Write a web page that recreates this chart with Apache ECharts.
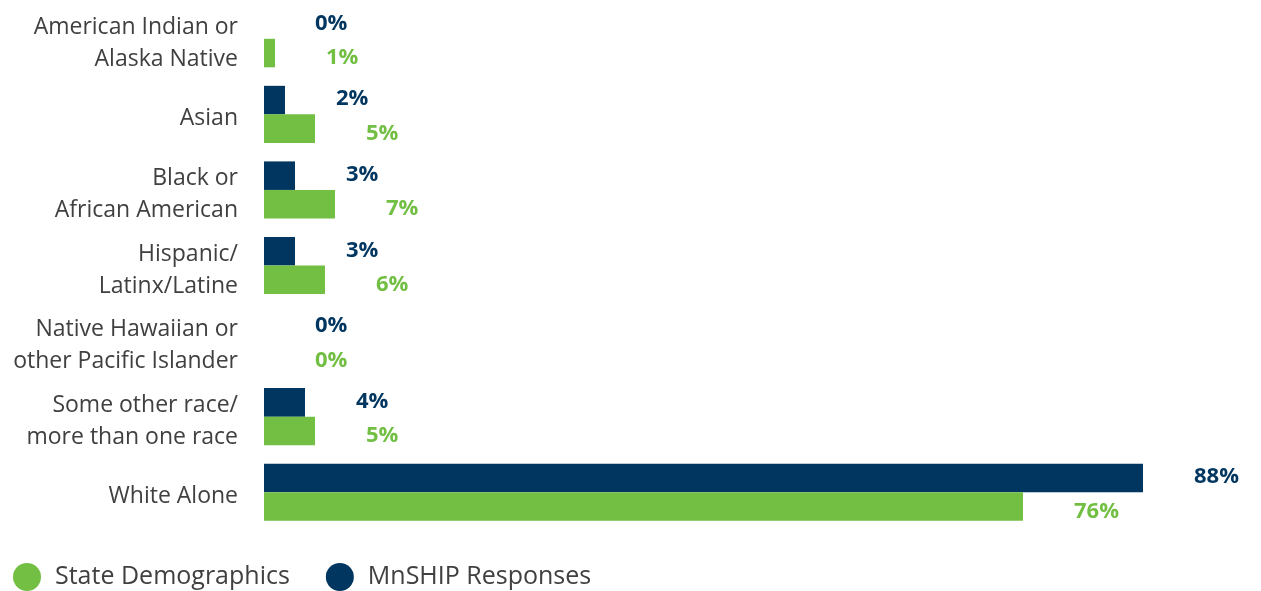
<!DOCTYPE html>
<html>
<head>
<meta charset="utf-8">
<script src="https://cdn.jsdelivr.net/npm/echarts@6/dist/echarts.min.js"></script>
<style>html,body{margin:0;padding:0;background:#fff}#c{width:1261px;height:591px}</style>
</head>
<body>
<div id="c"></div>
<script>
const categories = [
  "American Indian or\nAlaska Native",
  "Asian",
  "Black or\nAfrican American",
  "Hispanic/\nLatinx/Latine",
  "Native Hawaiian or\nother Pacific Islander",
  "Some other race/\nmore than one race",
  "White Alone"
];
const mnshipValues = [0, 2.1, 3.1, 3.1, 0, 4.1, 87.9];
const stateValues = [1.1, 5.1, 7.1, 6.1, 0, 5.1, 75.9];

const NAVY = "#00365F";
const GREEN = "#72BF44";
const FONT = "'Open Sans', 'Noto Sans', sans-serif";

const chart = echarts.init(document.getElementById('c'));
chart.setOption({
  animation: false,
  grid: { left: 264, top: 1, width: 900, height: 529, containLabel: false },
  legend: {
    data: ["State Demographics", "MnSHIP Responses"],
    left: 13, top: 563, padding: 0,
    icon: 'circle', itemWidth: 28, itemHeight: 28, itemGap: 36,
    textStyle: { fontFamily: FONT, fontSize: 25, color: '#404040', padding: [0,0,0,9] }
  },
  xAxis: {
    type: 'value', min: 0, max: 90, show: false
  },
  yAxis: {
    type: 'category', data: categories, inverse: true,
    axisLine: { show: false }, axisTick: { show: false },
    axisLabel: {
      margin: 26, align: 'right',
      formatter: v => '{pad|}\n' + v.split('\n').map(s => '{t|' + s + '}').join('\n'),
      rich: {
        t: { fontFamily: FONT, fontSize: 23, color: '#404040', lineHeight: 32, align: 'right' },
        pad: { fontSize: 1, lineHeight: 9 }
      }
    }
  },
  series: [
    {
      name: "MnSHIP Responses", type: 'bar', data: mnshipValues,
      itemStyle: { color: NAVY }, barGap: '0%', barCategoryGap: '24.5%',
      label: { show: true, position: 'right', distance: 51, offset: [0, -1], color: NAVY, fontFamily: FONT, fontSize: 22, fontWeight: 'bold',
        formatter: p => Math.round(p.value) + '%' }
    },
    {
      name: "State Demographics", type: 'bar', data: stateValues,
      itemStyle: { color: GREEN }, barGap: '0%', barCategoryGap: '24.5%',
      label: { show: true, position: 'right', distance: 51, offset: [0, 5], color: GREEN, fontFamily: FONT, fontSize: 22, fontWeight: 'bold',
        formatter: p => Math.round(p.value) + '%' }
    }
  ]
});
</script>
</body>
</html>
